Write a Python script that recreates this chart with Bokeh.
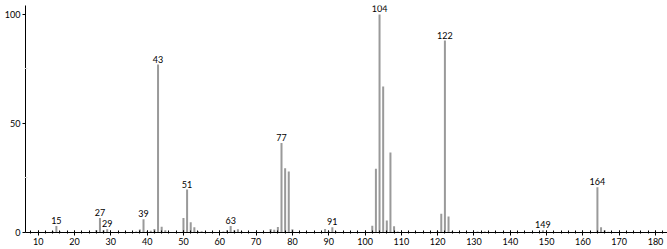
from bokeh.plotting import figure
from bokeh.models import FixedTicker, Range1d
from bokeh.core.properties import value
from bokeh.embed import file_html
from bokeh.resources import INLINE

# m/z values and relative intensities (%)
mz = [14, 15, 16, 26, 27, 28, 29, 37, 38, 39, 40, 41, 42, 43, 44, 45,
      50, 51, 52, 53, 54, 55, 61, 62, 63, 64, 65, 66,
      74, 75, 76, 77, 78, 79, 80, 89, 90, 91, 92,
      102, 103, 104, 105, 106, 107, 108, 109,
      120, 121, 122, 123, 124, 131, 133, 149, 164, 165, 166, 167]
intensity = [0.6, 3.0, 0.5, 1.2, 6.7, 1.0, 1.5, 0.5, 1.4, 6.1, 0.5, 0.8, 1.6, 77.0, 2.6, 1.0,
             6.7, 19.7, 4.7, 2.4, 0.6, 0.6, 0.5, 1.0, 3.0, 1.0, 1.5, 0.5,
             1.6, 1.3, 2.5, 41.0, 29.5, 28.0, 1.5, 1.6, 0.5, 2.4, 0.5,
             3.1, 29.2, 100.0, 67.0, 5.5, 36.7, 2.9, 0.5,
             0.5, 8.6, 88.0, 7.3, 0.5, 0.5, 0.5, 1.0, 20.8, 2.4, 1.0, 0.4]

# labelled peaks
label_mz = [15, 27, 29, 39, 43, 51, 63, 77, 91, 104, 122, 149, 164]

x_major = list(range(10, 190, 10))
x_minor = list(range(6, 184, 2))
y_major = [0, 50, 100]
y_minor = [25, 75]

lookup = dict(zip(mz, intensity))
label_int = [lookup[m] for m in label_mz]
label_txt = [str(m) for m in label_mz]

p = figure(width=667, height=249, output_backend="svg", toolbar_location=None,
           x_range=Range1d(6.5, 183.3), y_range=Range1d(0, 104.1),
           min_border_left=25, min_border_right=0, min_border_top=5, min_border_bottom=17)
p.outline_line_color = None
p.xgrid.visible = False
p.ygrid.visible = False
p.background_fill_color = "white"
p.border_fill_color = "white"

p.segment(x0=mz, y0=[0] * len(mz), x1=mz, y1=intensity, line_width=2, line_color="#9a9a9a")

p.text(x=label_mz, y=label_int, text=label_txt, text_align="center", text_baseline="bottom",
       y_offset=-2, text_font=value("Lato"), text_font_size="9px", text_color="black")

p.xaxis.ticker = FixedTicker(ticks=x_major, minor_ticks=x_minor)
p.yaxis.ticker = FixedTicker(ticks=y_major, minor_ticks=y_minor)
for ax in (p.xaxis[0], p.yaxis[0]):
    ax.axis_line_color = "black"
    ax.axis_line_width = 1
    ax.major_tick_line_color = "black"
    ax.major_tick_in = 2
    ax.major_tick_out = 3
    ax.minor_tick_in = 2
    ax.minor_tick_out = 1
    ax.minor_tick_line_color = "black"
    ax.major_label_text_font = "Lato"
    ax.major_label_text_font_size = "9px"
    ax.major_label_text_color = "black"
    ax.major_label_standoff = 2
p.yaxis[0].minor_tick_line_color = "#dddddd"
p.yaxis[0].major_tick_in = 0

open("out.html", "w").write(file_html(p, INLINE))
